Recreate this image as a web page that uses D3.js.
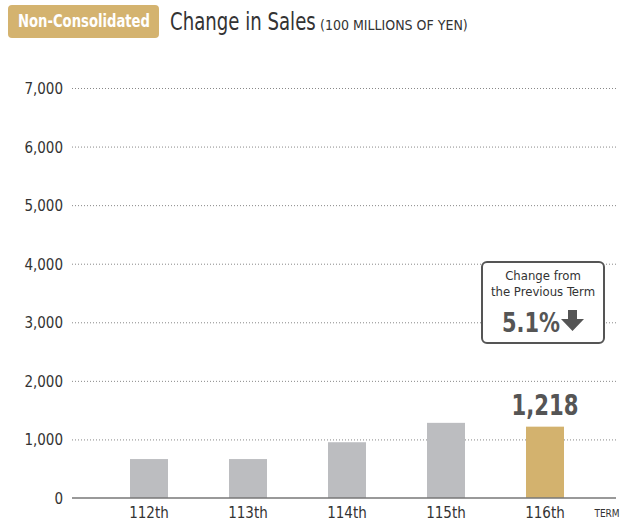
<!DOCTYPE html>
<meta charset="utf-8">
<head>
	<script src="https://d3js.org/d3.v7.min.js"></script>
</head>
<style>
	body {
		margin: 0;
		background: #fff;
	}
	svg text {
		font-family: "DejaVu Sans Condensed", "Liberation Sans Narrow", "Open Sans", sans-serif;
	}
	.grid line {
		stroke: #888;
		stroke-width: 1px;
		stroke-dasharray: 1,2;
	}
	.axisLabel {
		fill: #333;
		font-size: 15px;
	}
</style>
<body>
<div id="chart"></div>
<script>
	// chart data
	var terms = ["112th", "113th", "114th", "115th", "116th"];
	var sales = [665, 665, 952, 1283, 1218];
	var yTicks = [0, 1000, 2000, 3000, 4000, 5000, 6000, 7000];
	var changePct = "5.1%";

	var width = 627,
	    height = 525;

	var svg = d3.select("#chart")
		.append("svg")
		.attr("width", width)
		.attr("height", height);

	var x = d3.scaleBand()
		.domain(terms)
		.range([99.5, 594.5])
		.paddingInner(0.616)
		.paddingOuter(0.308);

	var y = d3.scaleLinear()
		.domain([0, 7000])
		.range([498, 88]);

	// ***** header *****
	svg.append("rect")
		.attr("x", 8)
		.attr("y", 5)
		.attr("width", 151)
		.attr("height", 33)
		.attr("rx", 4)
		.attr("fill", "#d4b36f");

	svg.append("text")
		.attr("x", 18)
		.attr("y", 27)
		.attr("fill", "#fff")
		.attr("textLength", 132)
		.attr("lengthAdjust", "spacingAndGlyphs")
		.style("font-size", "17px")
		.style("font-weight", "bold")
		.text("Non-Consolidated");

	// title squeezed horizontally to mimic the condensed face
	svg.append("text")
		.attr("transform", "translate(170,30) scale(0.84,1)")
		.attr("fill", "#333")
		.style("font-size", "24px")
		.text("Change in Sales");
	svg.append("text")
		.attr("transform", "translate(320,30)")
		.attr("fill", "#333")
		.style("font-size", "14px")
		.text("(100 MILLIONS OF YEN)");

	// ***** gridlines + y labels *****
	var grid = svg.append("g").attr("class", "grid");
	grid.selectAll("line")
		.data(yTicks.filter(function(d) { return d > 0; }))
		.enter().append("line")
		.attr("x1", 72)
		.attr("x2", 616)
		.attr("y1", function(d) { return y(d) + 0.5; })
		.attr("y2", function(d) { return y(d) + 0.5; });

	svg.append("g")
		.selectAll("text")
		.data(yTicks)
		.enter().append("text")
		.attr("class", "axisLabel")
		.attr("x", 63)
		.attr("y", function(d) { return y(d) + 6; })
		.attr("text-anchor", "end")
		.text(d3.format(","));

	// ***** bars *****
	svg.append("g")
		.selectAll("rect")
		.data(sales)
		.enter().append("rect")
		.attr("x", function(d, i) { return x(terms[i]); })
		.attr("width", x.bandwidth())
		.attr("y", function(d) { return y(d); })
		.attr("height", function(d) { return y(0) - y(d); })
		.attr("fill", function(d, i) { return i === terms.length - 1 ? "#d3b26e" : "#bcbdc0"; });

	// baseline
	svg.append("line")
		.attr("x1", 72)
		.attr("x2", 616)
		.attr("y1", y(0))
		.attr("y2", y(0))
		.attr("stroke", "#777")
		.attr("stroke-width", 1.5);

	// x labels
	svg.append("g")
		.selectAll("text")
		.data(terms)
		.enter().append("text")
		.attr("class", "axisLabel")
		.attr("x", function(d) { return x(d) + x.bandwidth() / 2; })
		.attr("y", 518)
		.attr("text-anchor", "middle")
		.text(function(d) { return d; });

	svg.append("text")
		.attr("x", 607)
		.attr("y", 517)
		.attr("text-anchor", "middle")
		.attr("fill", "#333")
		.style("font-size", "10px")
		.text("TERM");

	// value label for latest term
	var last = terms.length - 1;
	svg.append("text")
		.attr("x", x(terms[last]) + x.bandwidth() / 2)
		.attr("y", y(sales[last]) - 12)
		.attr("text-anchor", "middle")
		.attr("fill", "#555")
		.attr("textLength", 67)
		.attr("lengthAdjust", "spacingAndGlyphs")
		.style("font-size", "29px")
		.style("font-weight", "bold")
		.text(d3.format(",")(sales[last]));

	// ***** callout box *****
	var cx = 543;
	var box = svg.append("g");
	box.append("rect")
		.attr("x", 482)
		.attr("y", 262)
		.attr("width", 122)
		.attr("height", 81)
		.attr("rx", 5)
		.attr("fill", "#fff")
		.attr("stroke", "#555")
		.attr("stroke-width", 2);
	box.append("text")
		.attr("x", cx)
		.attr("y", 280)
		.attr("text-anchor", "middle")
		.attr("fill", "#333")
		.style("font-size", "13px")
		.text("Change from");
	box.append("text")
		.attr("x", cx)
		.attr("y", 296)
		.attr("text-anchor", "middle")
		.attr("fill", "#333")
		.style("font-size", "13px")
		.text("the Previous Term");
	box.append("text")
		.attr("x", 502)
		.attr("y", 332)
		.attr("fill", "#555")
		.attr("textLength", 58)
		.attr("lengthAdjust", "spacingAndGlyphs")
		.style("font-size", "27px")
		.style("font-weight", "bold")
		.text(changePct);
	// down arrow
	box.append("path")
		.attr("d", "M568,310 h9 v9 h7 l-11.5,12 l-11.5,-12 h7 z")
		.attr("fill", "#555");
</script>
</body>
